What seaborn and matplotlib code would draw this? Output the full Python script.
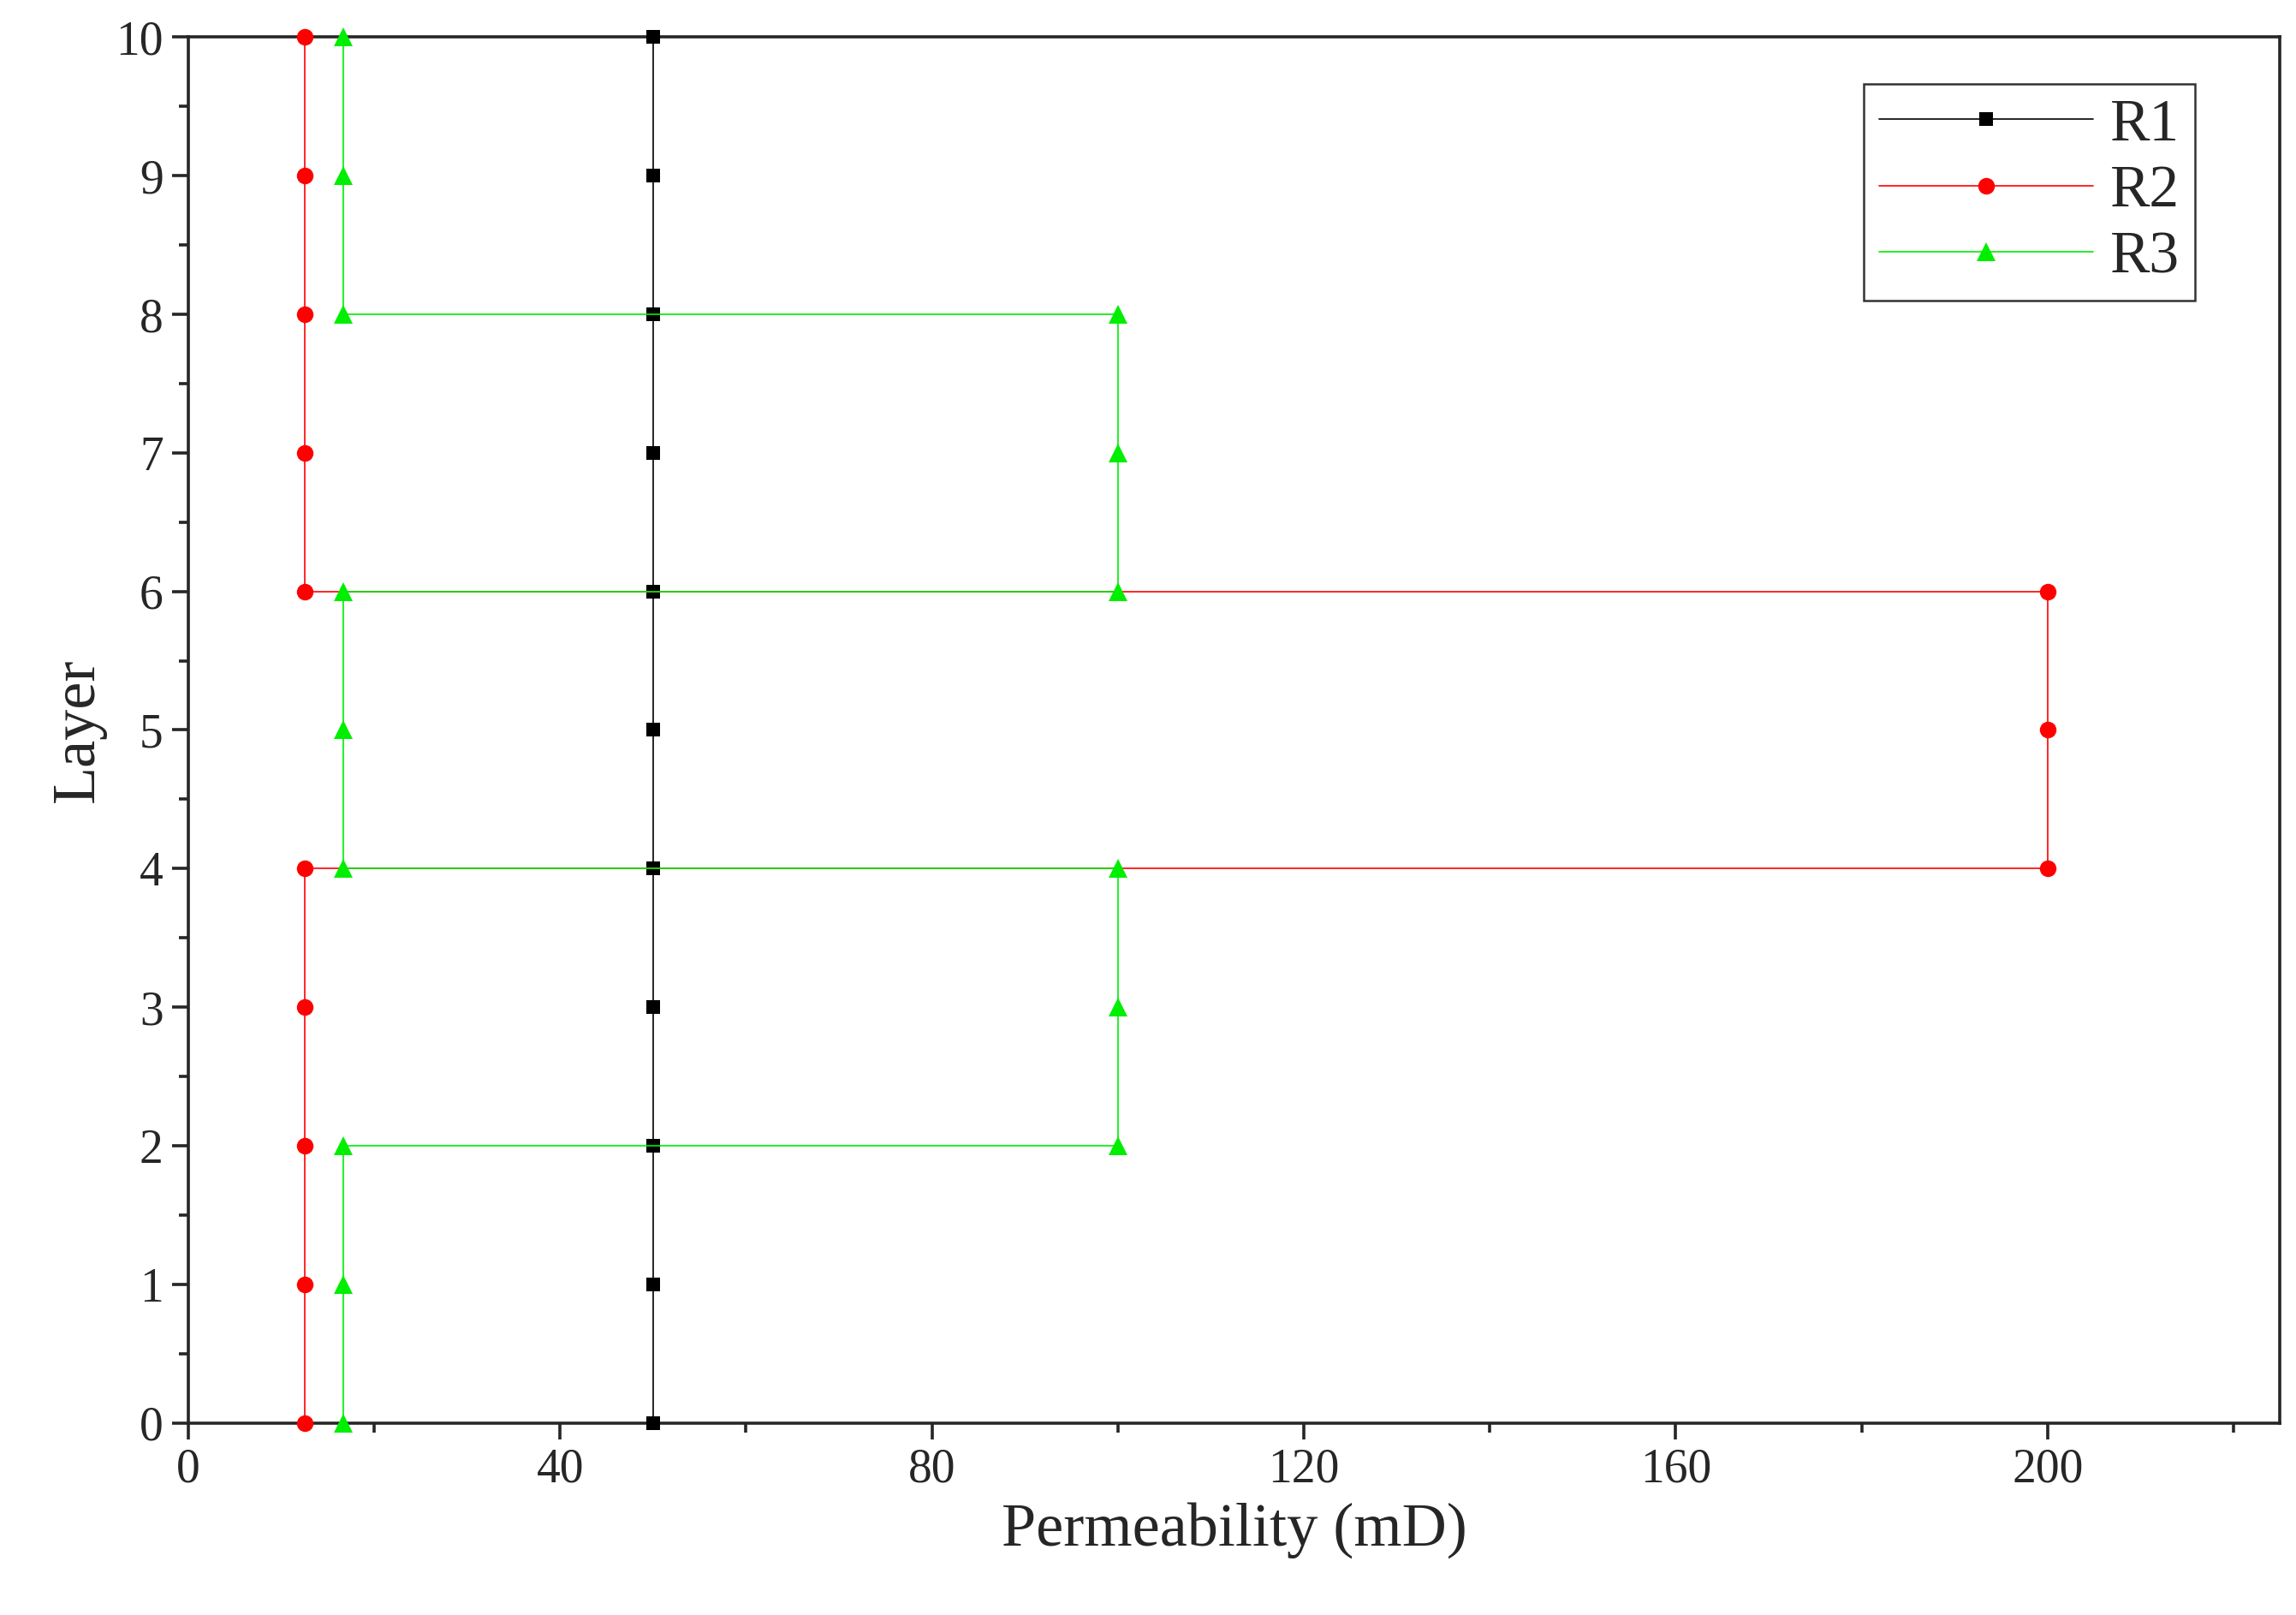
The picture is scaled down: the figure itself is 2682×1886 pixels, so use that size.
import matplotlib
matplotlib.use("Agg")
import matplotlib.pyplot as plt
import seaborn as sns
import pandas as pd
from matplotlib.ticker import MultipleLocator

# Data (path order matters: step profiles)
r1_perm = [50] * 11
r1_layer = [0, 1, 2, 3, 4, 5, 6, 7, 8, 9, 10]

r2_perm = [12.5, 12.5, 12.5, 12.5, 12.5, 200, 200, 200, 12.5, 12.5, 12.5, 12.5, 12.5]
r2_layer = [0, 1, 2, 3, 4, 4, 5, 6, 6, 7, 8, 9, 10]

r3_perm = [16.7, 16.7, 16.7, 100, 100, 100, 16.7, 16.7, 16.7, 100, 100, 100, 16.7, 16.7, 16.7]
r3_layer = [0, 1, 2, 2, 3, 4, 4, 5, 6, 6, 7, 8, 8, 9, 10]

sns.set_style("ticks")
plt.rcParams['font.family'] = ['Liberation Serif', 'DejaVu Serif']

fig = plt.figure(figsize=(13.41, 9.43), dpi=200)
ax = fig.add_axes([0.082, 0.119, 0.911, 0.858])

series = [
    ("R1", r1_perm, r1_layer, "black", "s", 6),
    ("R2", r2_perm, r2_layer, "red", "o", 7),
    ("R3", r3_perm, r3_layer, "#00ee00", "^", 8),
]
for name, xs, ys, col, mk, ms in series:
    df = pd.DataFrame({"perm": xs, "layer": ys})
    sns.lineplot(data=df, x="perm", y="layer", sort=False, estimator=None,
                 color=col, lw=0.6, marker=mk, markersize=ms, markeredgewidth=0,
                 label=name, ax=ax, clip_on=False, zorder=3)

ax.set_xlim(0, 225)
ax.set_ylim(0, 10)
ax.xaxis.set_major_locator(MultipleLocator(40))
ax.xaxis.set_minor_locator(MultipleLocator(20))
ax.yaxis.set_major_locator(MultipleLocator(1))
ax.yaxis.set_minor_locator(MultipleLocator(0.5))
ax.tick_params(which="major", direction="out", length=7, width=1.3, labelsize=20)
ax.tick_params(which="minor", direction="out", length=4, width=1.3)
for s in ax.spines.values():
    s.set_linewidth(1.3)
ax.set_xlabel("Permeability (mD)", fontsize=26)
ax.set_ylabel("Layer", fontsize=26)

leg = ax.legend(loc="upper right", bbox_to_anchor=(0.965, 0.975), fontsize=25,
                frameon=True, fancybox=False, edgecolor="black",
                handlelength=3.6, handletextpad=0.3, borderpad=0.25,
                labelspacing=0.2, borderaxespad=0.2)
leg.get_frame().set_linewidth(0.9)

fig.savefig("out.png", dpi=200)
